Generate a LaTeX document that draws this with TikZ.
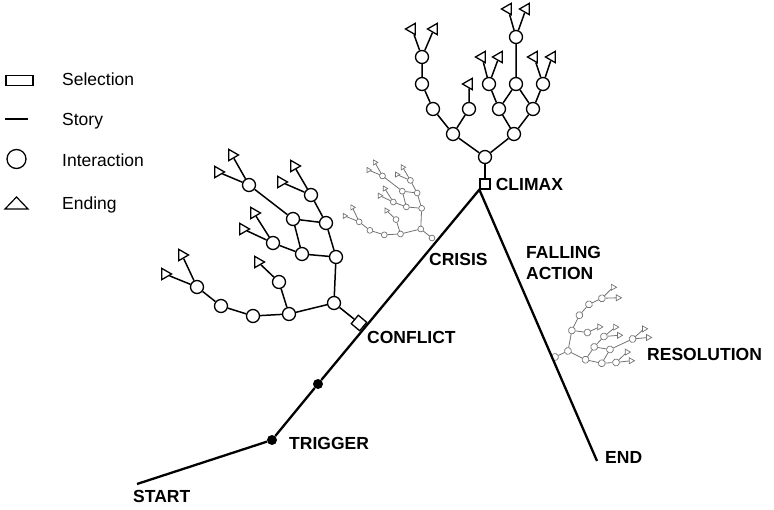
\documentclass[tikz,border=0pt]{standalone}
\usepackage{fontspec}
\setmainfont{Liberation Sans}
\usetikzlibrary{shapes.geometric,positioning}

\tikzset{
  interaction/.style={circle, draw, line width=1.3pt, minimum size=13pt, inner sep=0pt},
  selection/.style={rectangle, draw, line width=1.3pt, minimum size=10pt, inner sep=0pt},
  ending/.style={regular polygon, regular polygon sides=3, draw, line width=1.3pt,
    minimum size=13pt, inner sep=0pt, shape border rotate=-90},
  treeroot/.style={selection},
  branch/.style={line width=1.5pt},
  story/.style={line width=2.3pt},
  plotpoint/.style={circle, fill=black, minimum size=10pt, inner sep=0pt},
  stage/.style={anchor=west, inner sep=0pt, font=\fontsize{17.5}{21}\selectfont\bfseries},
  keytext/.style={anchor=base west, inner sep=0pt, font=\fontsize{17.5}{19}\selectfont},
  faded/.style={color=black!55, transform shape, treeroot/.style={interaction},
    branch/.append style={line width=0.8pt},
    interaction/.append style={line width=0.7pt},
    ending/.append style={line width=0.7pt}}
}

% branch that leaves the story at the conflict
\newcommand\conflicttree[1]{%
  \node[treeroot] (#1s) at (0,0) {};
  \node[interaction] (#1a) at (-25,-20) {};
  \node[interaction] (#1b) at (-23,-66) {};
  \node[interaction] (#1c) at (-70,-9) {};
  \node[interaction] (#1d) at (-33,-100) {};
  \node[interaction] (#1e) at (-57,-69) {};
  \node[interaction] (#1f) at (-48,-128) {};
  \node[interaction] (#1g) at (-66,-104) {};
  \node[interaction] (#1h) at (-110,-138) {};
  \node[interaction] (#1i) at (-86,-80) {};
  \node[interaction] (#1j) at (-80,-41) {};
  \node[interaction] (#1k) at (-106,-7) {};
  \node[interaction] (#1l) at (-138,-17) {};
  \node[interaction] (#1m) at (-162,-36) {};
  \node[ending] (#1t1) at (-65,-157) {};
  \node[ending] (#1t2) at (-78,-141) {};
  \node[ending] (#1t3) at (-127,-168) {};
  \node[ending] (#1t4) at (-141,-151) {};
  \node[ending] (#1t5) at (-105,-110) {};
  \node[ending] (#1t6) at (-116,-94) {};
  \node[ending] (#1t7) at (-101,-61) {};
  \node[ending] (#1t8) at (-177,-68) {};
  \node[ending] (#1t9) at (-194,-49) {};
  \draw[branch] (#1s) -- (#1a) -- (#1b) -- (#1d) -- (#1f);
  \draw[branch] (#1b) -- (#1e) -- (#1g) -- (#1h);
  \draw[branch] (#1d) -- (#1g);
  \draw[branch] (#1e) -- (#1i);
  \draw[branch] (#1a) -- (#1c) -- (#1k) -- (#1l) -- (#1m);
  \draw[branch] (#1c) -- (#1j);
  \draw[branch] (#1f) -- (#1t1);
  \draw[branch] (#1f) -- (#1t2);
  \draw[branch] (#1h) -- (#1t3);
  \draw[branch] (#1h) -- (#1t4);
  \draw[branch] (#1i) -- (#1t5);
  \draw[branch] (#1i) -- (#1t6);
  \draw[branch] (#1j) -- (#1t7);
  \draw[branch] (#1m) -- (#1t8);
  \draw[branch] (#1m) -- (#1t9);
}

% branch that grows out of the climax
\newcommand\climaxtree[1]{%
  \node[treeroot] (#1s) at (0,0) {};
  \node[interaction] (#1r) at (0,-27) {};
  \node[interaction] (#1l1) at (-32,-50) {};
  \node[interaction] (#1r1) at (29,-50) {};
  \node[interaction] (#1l2) at (-52,-75) {};
  \node[interaction] (#1l3) at (-16,-75) {};
  \node[interaction] (#1l4) at (-63,-100) {};
  \node[interaction] (#1l5) at (-63,-127) {};
  \node[interaction] (#1r2) at (14,-75) {};
  \node[interaction] (#1r3) at (48,-75) {};
  \node[interaction] (#1r4) at (4,-100) {};
  \node[interaction] (#1r5) at (31,-100) {};
  \node[interaction] (#1r6) at (58,-100) {};
  \node[interaction] (#1r7) at (31,-147) {};
  \node[ending] (#1t1) at (-16,-100) {};
  \node[ending] (#1t2) at (-73,-155) {};
  \node[ending] (#1t3) at (-51,-155) {};
  \node[ending] (#1t4) at (-3,-127) {};
  \node[ending] (#1t5) at (14,-127) {};
  \node[ending] (#1t6) at (49,-127) {};
  \node[ending] (#1t7) at (67,-127) {};
  \node[ending] (#1t8) at (23,-175) {};
  \node[ending] (#1t9) at (41,-175) {};
  \draw[branch] (#1s) -- (#1r);
  \draw[branch] (#1r) -- (#1l1) -- (#1l2) -- (#1l4) -- (#1l5);
  \draw[branch] (#1l1) -- (#1l3) -- (#1t1);
  \draw[branch] (#1r) -- (#1r1) -- (#1r2) -- (#1r4);
  \draw[branch] (#1r1) -- (#1r3) -- (#1r6);
  \draw[branch] (#1r2) -- (#1r5) -- (#1r7);
  \draw[branch] (#1r3) -- (#1r5);
  \draw[branch] (#1l5) -- (#1t2);
  \draw[branch] (#1l5) -- (#1t3);
  \draw[branch] (#1r4) -- (#1t4);
  \draw[branch] (#1r4) -- (#1t5);
  \draw[branch] (#1r6) -- (#1t6);
  \draw[branch] (#1r6) -- (#1t7);
  \draw[branch] (#1r7) -- (#1t8);
  \draw[branch] (#1r7) -- (#1t9);
}

\begin{document}
\begin{tikzpicture}[x=1pt, y=-1pt]
  \useasboundingbox (0,0) rectangle (774,510);

  % legend
  \node[draw, line width=1.6pt, minimum width=27pt, minimum height=10pt, inner sep=0pt] (keysel) at (19.5,80.5) {};
  \node[keytext] (keyseltxt) at (62,86) {Selection};
  \coordinate (keystorya) at (5,119);
  \coordinate (keystoryb) at (28,119);
  \draw[line width=1.1pt] (keystorya) -- (keystoryb);
  \node[keytext] (keystorytxt) at (62,126) {Story};
  \node[interaction, minimum size=19pt] (keyint) at (16.5,159) {};
  \node[keytext] (keyinttxt) at (62,167) {Interaction};
  \draw[line width=1.2pt] (5,209) -- (28,209) -- (16.5,197) -- cycle;
  \node[keytext] (keyendtxt) at (62,210) {Ending};

  % branches
  \begin{scope}[shift={(359,323)}, treeroot/.style={selection, minimum size=11pt, rotate=50}]
    \conflicttree{cf}
  \end{scope}
  \begin{scope}[shift={(432,238)}, scale=0.45, faded]
    \conflicttree{cr}
  \end{scope}
  \begin{scope}[shift={(485,184)}, ending/.append style={shape border rotate=90}]
    \climaxtree{cl}
  \end{scope}
  \begin{scope}[shift={(555,357)}, rotate=-65, scale=0.53, faded, ending/.append style={shape border rotate=-25}]
    \climaxtree{rs}
  \end{scope}

  % the story line
  \coordinate (start) at (137,484);
  \node[plotpoint] (trigger) at (272,440) {};
  \node[plotpoint] (rising) at (318,384) {};
  \coordinate (apex) at (cls.south west);
  \coordinate (finish) at (597,461);
  \draw[story] (start) -- (trigger) -- (rising) -- (apex) -- (finish);

  % stage names
  \node[stage] (startlbl) at (133,496) {START};
  \node[stage] (triggerlbl) at (289,443) {TRIGGER};
  \node[stage] (conflictlbl) at (367,337) {CONFLICT};
  \node[stage] (crisislbl) at (429,259) {CRISIS};
  \node[stage, right=5pt of cls] (climaxlbl) {CLIMAX};
  \node[stage, align=left] (fallinglbl) at (526,262.5) {FALLING\\ACTION};
  \node[stage] (resolutionlbl) at (647,354) {RESOLUTION};
  \node[stage] (endlbl) at (605,457) {END};
\end{tikzpicture}
\end{document}
